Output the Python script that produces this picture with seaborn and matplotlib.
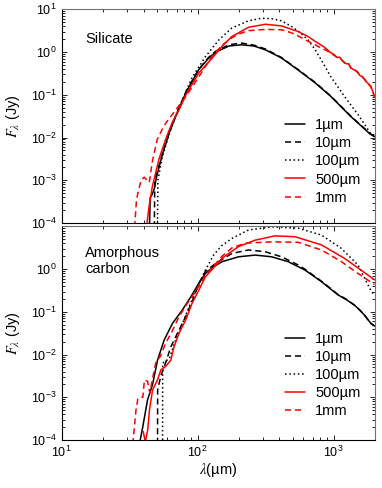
import numpy as np
import pandas as pd
import seaborn as sns
import matplotlib.pyplot as plt

sns.set_theme(style='ticks', rc={
    'axes.labelcolor': 'black', 'text.color': 'black',
    'xtick.color': 'black', 'ytick.color': 'black',
    'xtick.direction': 'in', 'ytick.direction': 'in',
})
plt.rcParams['font.family'] = ['Liberation Sans', 'DejaVu Sans']
plt.rcParams['mathtext.fontset'] = 'stix'

# --- grain sizes / styles ---
SIZES = ['1µm', '10µm', '100µm', '500µm', '1mm']
COLORS = {'1µm': 'black', '10µm': 'black', '100µm': 'black', '500µm': 'red', '1mm': 'red'}
DASHES = {'1µm': '', '10µm': (4, 2.5), '100µm': (1, 1.8), '500µm': '', '1mm': (4, 2.5)}

# --- Silicate panel (wavelength in µm, log10 of F in Jy) ---
sil_lam_1um = [44.2, 44.8, 46, 48, 50, 55, 62, 70, 82, 102, 120, 136, 170, 210, 260, 316, 414, 548, 731, 955, 1340, 1860, 2000]
sil_logF_1um = [-4.1, -3.4, -3.35, -3.2, -2.9, -2.4, -1.88, -1.45, -0.95, -0.41, -0.15, 0.0, 0.14, 0.17, 0.14, 0.05, -0.14, -0.42, -0.72, -1.04, -1.51, -1.92, -1.98]

sil_lam_10um = [48, 48.4, 50, 55, 62, 70, 82, 102, 120, 136, 170, 210, 260, 316, 414, 548, 731, 955, 1340, 1860, 2000]
sil_logF_10um = [-4.1, -3.0, -2.85, -2.38, -1.86, -1.44, -0.93, -0.40, -0.13, 0.02, 0.17, 0.21, 0.16, 0.07, -0.13, -0.41, -0.71, -1.03, -1.50, -1.91, -1.97]

sil_lam_100um = [50.6, 51, 55, 62, 70, 82, 91, 102, 114, 143, 178, 237, 295, 350, 414, 490, 560, 650, 730, 810, 955, 1210, 1510, 1860, 2000]
sil_logF_100um = [-4.1, -3.0, -2.45, -1.9, -1.45, -0.92, -0.6, -0.35, -0.11, 0.28, 0.56, 0.73, 0.79, 0.78, 0.73, 0.6, 0.47, 0.28, 0.06, -0.18, -0.58, -1.05, -1.46, -1.89, -1.95]

sil_lam_500um = [42, 44, 46.4, 49.8, 52, 58.8, 65, 73, 82, 102, 128, 150, 178, 237, 316, 414, 548, 650, 731, 850, 955,
                 1010, 1060, 1110, 1170, 1230, 1290, 1350, 1420, 1490, 1560, 1640, 1720, 1800, 1880, 1950, 2000]
sil_logF_500um = [-4.1, -3.6, -3.15, -2.75, -2.5, -2.0, -1.65, -1.35, -1.0, -0.49, -0.14, 0.12, 0.36, 0.58, 0.65, 0.61, 0.48, 0.36, 0.25, 0.12, -0.02,
                  -0.06, -0.13, -0.12, -0.22, -0.27, -0.28, -0.38, -0.42, -0.45, -0.55, -0.58, -0.68, -0.74, -0.82, -0.93, -1.05]

sil_lam_1mm = [34.4, 35.5, 37, 38.5, 40.5, 42.5, 44.1, 46.3, 50.4, 55, 58.7, 69.5, 82, 102, 127, 150, 178, 200, 237, 316, 414, 490, 560,
               650, 731, 800, 880, 955, 1010, 1060, 1110, 1170, 1230, 1290, 1350, 1420, 1490, 1560, 1640, 1720, 1800, 1880, 1950, 2000]
sil_logF_1mm = [-4.1, -3.45, -3.2, -2.98, -2.93, -3.0, -3.05, -2.58, -2.05, -1.8, -1.65, -1.34, -1.04, -0.58, -0.11, 0.15, 0.33, 0.42, 0.50, 0.53, 0.52, 0.45, 0.36,
                0.25, 0.17, 0.10, 0.04, -0.03, -0.08, -0.12, -0.15, -0.21, -0.29, -0.27, -0.40, -0.41, -0.47, -0.53, -0.60, -0.66, -0.75, -0.80, -0.95, -1.05]

# --- Amorphous carbon panel ---
car_lam_1um = [37.3, 39.5, 42.8, 46.6, 50.7, 56.7, 65.3, 77, 89, 102, 114, 130, 151, 200, 265, 351, 464, 615, 813, 1075, 1250, 1420, 1550, 1680, 1880, 2000]
car_logF_1um = [-4.1, -3.69, -3.06, -2.7, -2.13, -1.66, -1.27, -0.96, -0.65, -0.33, -0.10, 0.05, 0.175, 0.29, 0.33, 0.29, 0.175, -0.02, -0.29, -0.60, -0.72, -0.84, -0.95, -1.07, -1.27, -1.33]

car_lam_10um = [50.7, 50.8, 53.6, 58, 63.5, 71, 81.7, 92, 102, 114, 135, 179, 237, 313, 414, 548, 615, 813, 1075, 1250, 1420, 1550, 1680, 1880, 2000]
car_logF_10um = [-4.1, -2.83, -2.5, -2.2, -1.82, -1.5, -1.11, -0.72, -0.34, -0.05, 0.13, 0.37, 0.45, 0.41, 0.29, 0.10, 0.0, -0.28, -0.59, -0.71, -0.84, -0.95, -1.07, -1.27, -1.33]

car_lam_100um = [55.2, 55.3, 62, 65, 70, 80, 90, 102, 115, 131, 150, 179, 237, 351, 548, 813, 1137, 1510, 1880, 2000]
car_logF_100um = [-4.1, -2.2, -2.09, -1.89, -1.6, -1.15, -0.75, -0.35, 0.0, 0.33, 0.55, 0.72, 0.92, 0.99, 0.96, 0.80, 0.49, 0.10, -0.50, -0.62]

car_lam_500um = [39.8, 41.2, 43, 44.2, 46.6, 50.7, 53.6, 58, 63.5, 67, 73, 81.7, 91, 102, 114, 151, 200, 265, 370, 519, 813, 1200, 1590, 2000]
car_logF_500um = [-3.8, -4.05, -3.75, -3.3, -2.83, -2.59, -2.36, -2.28, -2.13, -1.82, -1.5, -1.19, -0.80, -0.49, -0.18, 0.255, 0.53, 0.68, 0.78, 0.76, 0.57, 0.255, -0.02, -0.25]

car_lam_1mm = [33.3, 35.2, 36.3, 38, 39.5, 40.6, 42.8, 44.5, 47, 49.4, 53, 58, 65, 73, 82, 102, 114, 151, 179, 224, 351, 548, 813, 1137, 1510, 2000]
car_logF_1mm = [-4.1, -3.3, -3.04, -3.0, -3.0, -2.6, -2.62, -2.9, -2.5, -2.17, -2.05, -1.74, -1.45, -1.11, -0.85, -0.40, -0.15, 0.30, 0.50, 0.61, 0.64, 0.63, 0.45, 0.18, -0.10, -0.36]

# y tick labels (bottom panel drops the top "10^1" label)
Y_TICKS = [1e-4, 1e-3, 1e-2, 1e-1, 1, 10]
Y_LABELS_TOP = [r'$\mathdefault{10^{-4}}$', r'$\mathdefault{10^{-3}}$', r'$\mathdefault{10^{-2}}$',
                r'$\mathdefault{10^{-1}}$', r'$\mathdefault{10^{0}}$', r'$\mathdefault{10^{1}}$']
Y_LABELS_BOTTOM = Y_LABELS_TOP[:-1] + ['']


def panel_frame(curves):
    parts = []
    for size, (lam, logF) in curves.items():
        parts.append(pd.DataFrame({'lam': lam, 'F': np.power(10.0, logF), 'size': size}))
    return pd.concat(parts, ignore_index=True)


sil_df = panel_frame({
    '1µm': (sil_lam_1um, sil_logF_1um), '10µm': (sil_lam_10um, sil_logF_10um),
    '100µm': (sil_lam_100um, sil_logF_100um), '500µm': (sil_lam_500um, sil_logF_500um),
    '1mm': (sil_lam_1mm, sil_logF_1mm)})
car_df = panel_frame({
    '1µm': (car_lam_1um, car_logF_1um), '10µm': (car_lam_10um, car_logF_10um),
    '100µm': (car_lam_100um, car_logF_100um), '500µm': (car_lam_500um, car_logF_500um),
    '1mm': (car_lam_1mm, car_logF_1mm)})

fig = plt.figure(figsize=(3.82, 4.88), dpi=100)
ax1 = fig.add_axes([0.1615, 0.543, 0.8189, 0.438])
ax2 = fig.add_axes([0.1615, 0.0984, 0.8189, 0.4375])

panels = [(ax1, sil_df, 'Silicate', 0.861, 0.49, Y_LABELS_TOP),
          (ax2, car_df, 'Amorphous\ncarbon', 0.838, 0.505, Y_LABELS_BOTTOM)]
for ax, df, name, ty, ly, ylabels in panels:
    ax.set_xscale('log')
    ax.set_yscale('log')
    sns.lineplot(data=df, x='lam', y='F', hue='size', style='size', hue_order=SIZES, style_order=SIZES,
                 palette=COLORS, dashes=DASHES, sort=False, estimator=None, lw=1.1, ax=ax)
    ax.set_xlim(10, 2000)
    ax.set_yticks(Y_TICKS)
    ax.set_yticklabels(ylabels)
    ax.set_ylim(1e-4, 10)
    ax.tick_params(which='both', direction='in', top=True, right=True, labelsize=9, width=0.6)
    ax.tick_params(which='major', length=3.5)
    ax.tick_params(which='minor', length=2)
    for side in ['left', 'bottom']:
        ax.spines[side].set_color('black')
        ax.spines[side].set_linewidth(0.8)
    for side in ['top', 'right']:
        ax.spines[side].set_color('#707070')
        ax.spines[side].set_linewidth(0.8)
    ax.set_ylabel(r'$F_\lambda$ (Jy)', fontsize=10.5)
    ax.yaxis.set_label_coords(-0.128, 0.5)
    ax.text(0.0745, ty, name, transform=ax.transAxes, va='center', ha='left', fontsize=10.5)
    sns.move_legend(ax, 'upper left', bbox_to_anchor=(0.714, ly), frameon=False, title=None,
                    fontsize=10.5, handlelength=1.37, handletextpad=0.7, labelspacing=0.28,
                    borderpad=0, borderaxespad=0)

ax1.set_xlabel('')
ax1.tick_params(labelbottom=False)
ax2.set_xlabel(r'$\lambda$(µm)', fontsize=10.5)
ax2.xaxis.set_label_coords(0.5, -0.1)

fig.savefig('out.png', dpi=100)
